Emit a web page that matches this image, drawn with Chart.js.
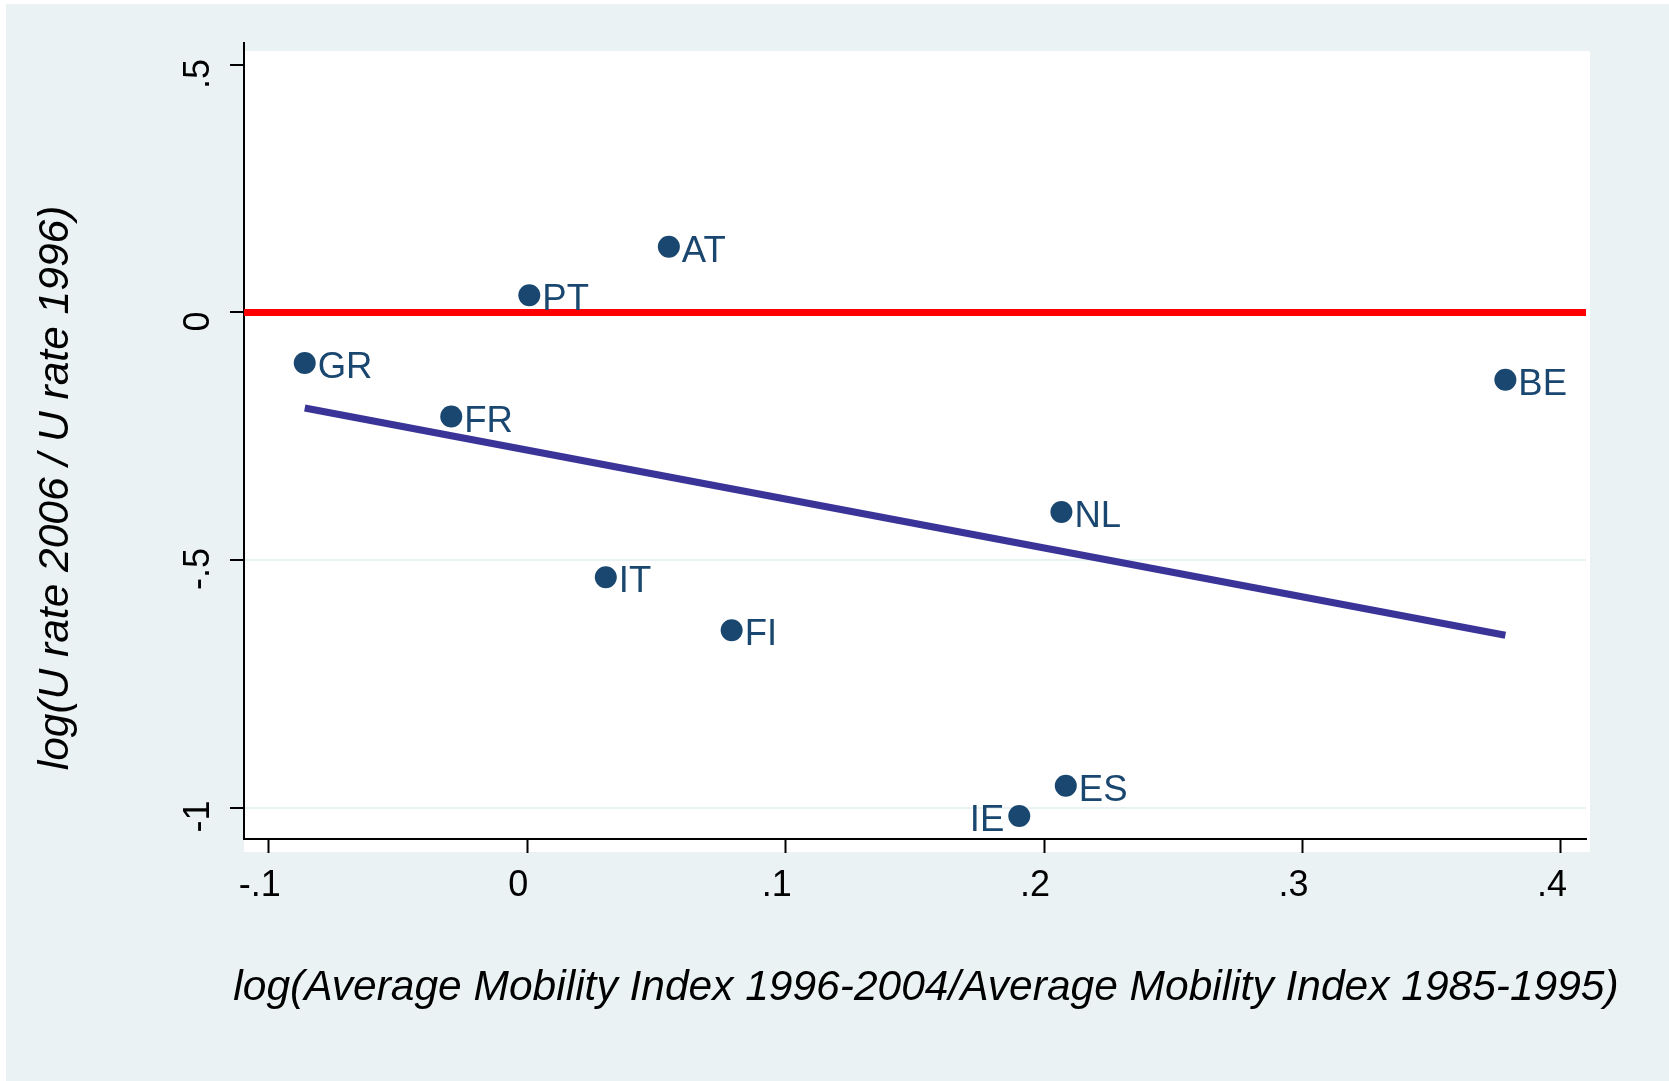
<!DOCTYPE html>
<html>
<head>
<meta charset="utf-8">
<title>Mobility vs unemployment</title>
<script src="https://cdn.jsdelivr.net/npm/chart.js@4.4.1/dist/chart.umd.min.js"></script>
<style>
  html, body { margin: 0; padding: 0; background: #ffffff; }
  canvas { display: block; }
</style>
</head>
<body>
<canvas id="chart" width="1669" height="1081"></canvas>
<script>
// country codes and the two logs
const countries = ['GR', 'FR', 'PT', 'AT', 'IT', 'FI', 'NL', 'ES', 'IE', 'BE'];
const mobility  = [-0.0861, -0.0294, 0.0008, 0.0548, 0.0304, 0.0791, 0.2067, 0.2084, 0.1904, 0.3785];
const urate     = [-0.102, -0.210, 0.035, 0.133, -0.535, -0.642, -0.403, -0.956, -1.017, -0.136];

// fitted line (end points) and the zero reference line
const fitX = [-0.0861, 0.3785];
const fitY = [-0.193, -0.652];
const zeroY = 0;

// axes
const xRange = [-0.1096, 0.4097];
const yRange = [-1.0636, 0.5444];
const xTicks = [-0.1, 0, 0.1, 0.2, 0.3, 0.4];
const xTickLabels = ['-.1', '0', '.1', '.2', '.3', '.4'];
const yTicks = [-1, -0.5, 0, 0.5];
const yTickLabels = ['-1', '-.5', '0', '.5'];

const xTitle = 'log(Average Mobility Index 1996-2004/Average Mobility Index 1985-1995)';
const yTitle = 'log(U rate 2006 / U rate 1996)';

const labelLeft = ['IE'];   // labels drawn on the left of the marker

const BG = '#EAF2F3';
const NAVY = '#1A476F';
const FONT = '"Liberation Sans", Arial, Helvetica, sans-serif';

Chart.defaults.font.family = FONT;
Chart.defaults.color = '#000';

const stataLook = {
    id: 'stataLook',
    beforeDraw(chart) {
        const ctx = chart.ctx;
        const a = chart.chartArea;
        ctx.save();
        ctx.fillStyle = '#ffffff';
        ctx.fillRect(0, 0, chart.width, chart.height);
        ctx.fillStyle = BG;
        ctx.fillRect(6, 4, chart.width - 6, chart.height - 4);
        // plot region
        ctx.fillStyle = '#ffffff';
        ctx.fillRect(a.left, a.top + 8, a.right - a.left + 4, a.bottom - a.top + 5);
        ctx.restore();
    },
    afterDatasetsDraw(chart) {
        const ctx = chart.ctx;
        const meta = chart.getDatasetMeta(0);
        ctx.save();
        ctx.font = '36.5px ' + FONT;
        ctx.fillStyle = NAVY;
        ctx.textBaseline = 'middle';
        meta.data.forEach((pt, i) => {
            const name = countries[i];
            if (labelLeft.includes(name)) {
                ctx.textAlign = 'right';
                ctx.fillText(name, pt.x - 15, pt.y + 5);
            } else {
                ctx.textAlign = 'left';
                ctx.fillText(name, pt.x + 13, pt.y + 5);
            }
        });
        ctx.restore();
    },
    afterDraw(chart) {
        const ctx = chart.ctx;
        ctx.save();
        ctx.font = 'italic 42.5px ' + FONT;
        ctx.fillStyle = '#000';
        ctx.textAlign = 'center';
        ctx.textBaseline = 'middle';
        ctx.fillText(xTitle, 926, 988);
        ctx.translate(56, 488);
        ctx.rotate(-Math.PI / 2);
        ctx.fillText(yTitle, 0, 0);
        ctx.restore();
    }
};

new Chart(document.getElementById('chart'), {
    type: 'scatter',
    data: {
        datasets: [
            {
                label: 'countries',
                data: countries.map((c, i) => ({ x: mobility[i], y: urate[i] })),
                backgroundColor: NAVY,
                borderWidth: 0,
                pointRadius: 11,
                pointHoverRadius: 11
            },
            {
                type: 'line',
                label: 'fit',
                data: fitX.map((x, i) => ({ x: x, y: fitY[i] })),
                borderColor: '#3A3498',
                borderWidth: 7,
                borderCapStyle: 'butt',
                pointRadius: 0,
                fill: false
            },
            {
                type: 'line',
                label: 'zero',
                data: xRange.map(x => ({ x: x, y: zeroY })),
                borderColor: '#FF0000',
                borderWidth: 7,
                borderCapStyle: 'butt',
                pointRadius: 0,
                fill: false
            }
        ]
    },
    options: {
        responsive: false,
        animation: false,
        events: [],
        layout: { padding: { top: 43, right: 83, left: 0, bottom: 0 } },
        plugins: {
            legend: { display: false },
            tooltip: { enabled: false }
        },
        scales: {
            x: {
                type: 'linear',
                min: xRange[0],
                max: xRange[1],
                afterBuildTicks: s => { s.ticks = xTicks.map(v => ({ value: v })); },
                afterFit: s => { s.height = 242; },
                border: { display: true, color: '#000', width: 2 },
                grid: {
                    drawOnChartArea: false,
                    drawTicks: true,
                    tickLength: 14,
                    tickWidth: 2,
                    tickColor: '#000'
                },
                ticks: {
                    autoSkip: false,
                    maxRotation: 0,
                    padding: 11,
                    labelOffset: -9,
                    color: '#000',
                    font: { size: 36 },
                    callback: (v, i) => xTickLabels[i]
                }
            },
            y: {
                type: 'linear',
                min: yRange[0],
                max: yRange[1],
                afterBuildTicks: s => { s.ticks = yTicks.map(v => ({ value: v })); },
                afterFit: s => { s.width = 244; },
                border: { display: true, color: '#000', width: 2 },
                grid: {
                    drawOnChartArea: true,
                    color: c => (c.tick && c.tick.value > 0.4) ? 'rgba(0,0,0,0)' : BG,
                    lineWidth: 2,
                    drawTicks: true,
                    tickLength: 14,
                    tickWidth: 2,
                    tickColor: '#000'
                },
                ticks: {
                    autoSkip: false,
                    minRotation: 90,
                    maxRotation: 90,
                    crossAlign: 'center',
                    padding: 10,
                    labelOffset: 9,
                    color: '#000',
                    font: { size: 36 },
                    callback: (v, i) => yTickLabels[i]
                }
            }
        }
    },
    plugins: [stataLook]
});
</script>
</body>
</html>
